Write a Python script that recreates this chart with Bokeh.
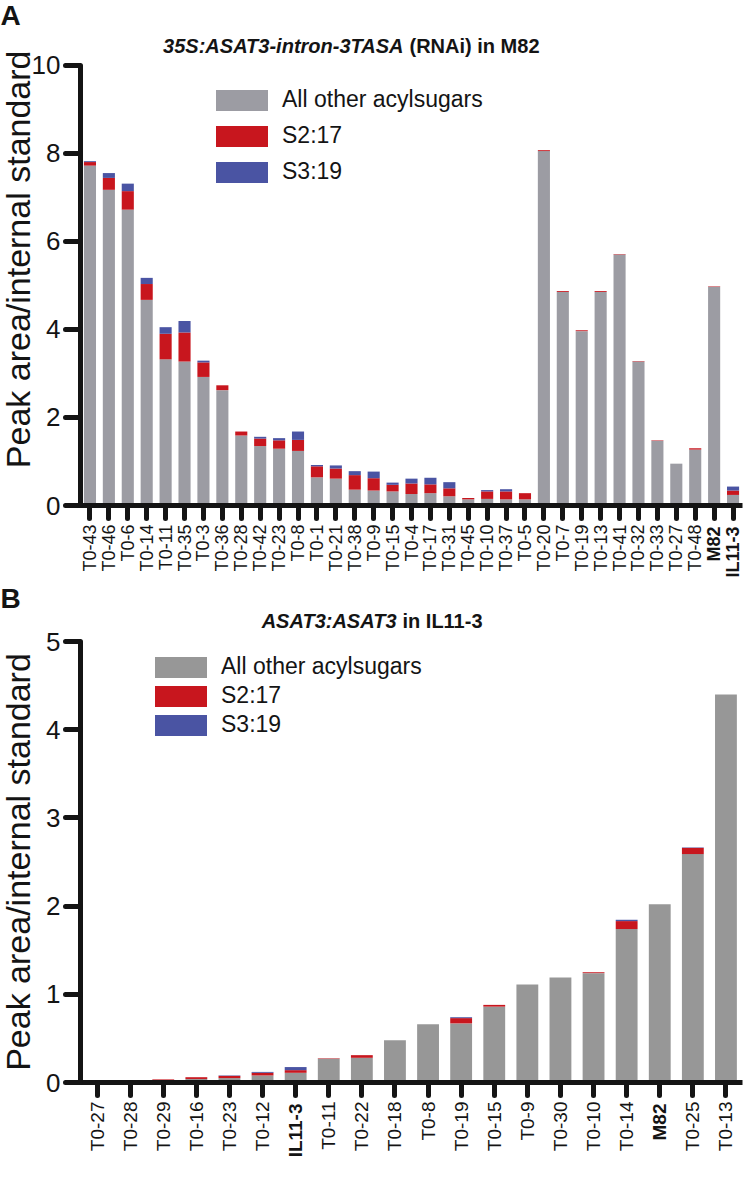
import math
from bokeh.plotting import figure
from bokeh.layouts import column
from bokeh.models import (Range1d, Label, Legend, LegendItem, ColumnDataSource, FixedTicker)
from bokeh.core.properties import value
from bokeh.embed import file_html
from bokeh.resources import INLINE

# ---------------- data ----------------
a_cats = ["T0-43", "T0-46", "T0-6", "T0-14", "T0-11", "T0-35", "T0-3", "T0-36", "T0-28",
          "T0-42", "T0-23", "T0-8", "T0-1", "T0-21", "T0-38", "T0-9", "T0-15", "T0-4",
          "T0-17", "T0-31", "T0-45", "T0-10", "T0-37", "T0-5", "T0-20", "T0-7", "T0-19",
          "T0-13", "T0-41", "T0-32", "T0-33", "T0-27", "T0-48", "M82", "IL11-3"]
a_other = [7.72, 7.17, 6.72, 4.67, 3.32, 3.27, 2.92, 2.62, 1.59, 1.35, 1.29, 1.24, 0.64, 0.61,
           0.36, 0.34, 0.32, 0.26, 0.28, 0.21, 0.14, 0.15, 0.14, 0.14, 8.05, 4.85, 3.96, 4.85,
           5.70, 3.27, 1.47, 0.95, 1.27, 4.97, 0.24]
a_s217 = [0.08, 0.27, 0.42, 0.36, 0.58, 0.66, 0.33, 0.11, 0.09, 0.17, 0.19, 0.25, 0.25, 0.23,
          0.33, 0.28, 0.15, 0.24, 0.20, 0.18, 0.03, 0.17, 0.18, 0.14, 0.02, 0.02, 0.02, 0.02,
          0.01, 0.01, 0.01, 0.0, 0.03, 0.01, 0.10]
a_s319 = [0.02, 0.11, 0.17, 0.14, 0.15, 0.26, 0.04, 0.0, 0.0, 0.04, 0.05, 0.19, 0.03, 0.07,
          0.09, 0.15, 0.05, 0.11, 0.15, 0.14, 0.0, 0.03, 0.05, 0.0, 0.0, 0.0, 0.0, 0.0,
          0.0, 0.0, 0.0, 0.0, 0.0, 0.0, 0.09]
a_yticks = [0, 2, 4, 6, 8, 10]

b_cats = ["T0-27", "T0-28", "T0-29", "T0-16", "T0-23", "T0-12", "IL11-3", "T0-11", "T0-22",
          "T0-18", "T0-8", "T0-19", "T0-15", "T0-9", "T0-30", "T0-10", "T0-14", "M82",
          "T0-25", "T0-13"]
b_other = [0.0, 0.01, 0.02, 0.04, 0.05, 0.08, 0.11, 0.27, 0.28, 0.48, 0.66, 0.67, 0.86, 1.11,
           1.19, 1.24, 1.74, 2.02, 2.59, 4.40]
b_s217 = [0.0, 0.015, 0.015, 0.02, 0.025, 0.03, 0.03, 0.005, 0.03, 0.0, 0.0, 0.06, 0.02, 0.0,
          0.0, 0.01, 0.09, 0.0, 0.07, 0.0]
b_s319 = [0.0, 0.0, 0.0, 0.0, 0.005, 0.01, 0.035, 0.0, 0.0, 0.0, 0.0, 0.01, 0.0, 0.0,
          0.0, 0.0, 0.015, 0.0, 0.005, 0.0]
b_yticks = [0, 1, 2, 3, 4, 5]

bold_cats = ["M82", "IL11-3"]
series_names = ["All other acylsugars", "S2:17", "S3:19"]
y_label = "Peak area/internal standard"

FONT = "Liberation Sans"
RED = "#c8161e"
BLUE = "#4a54a3"
INK = "#141414"

PAGE_X0 = 4          # page x of the canvas left edge (layout pulled 4px over the body margin)
PAGE_Y0 = 4
CANVAS_W = 748
AXIS_X = 88          # page x of the y axis / first slot edge
AXIS_R = 750         # page x of the right end of the x axis


def make_panel(cats, other, s2, s3, yticks, gray, bar_w, top, bottom, y0_px, ytop_px,
               letter, letter_y, title_it, title_rest, split_x, title_y,
               leg_x, leg_bottom, leg_gh, leg_spacing, leg_font, tick_font, ylab_font,
               ylab_x, ylab_dy):
    n = len(cats)
    ymax = yticks[-1]
    H = bottom - top
    ppu = (y0_px - ytop_px) / ymax
    slot = (AXIS_R - AXIS_X) / n
    x_start = -0.5 - (AXIS_X - PAGE_X0) / slot
    x_end = n - 0.5 + (PAGE_X0 + CANVAS_W - AXIS_R) / slot
    y_start = -(bottom - y0_px) / ppu
    y_end = ymax + (ytop_px - top) / ppu

    idx = list(range(n))
    src = ColumnDataSource(dict(x=idx, other=other, s217=s2, s319=s3))
    p = figure(x_range=Range1d(x_start, x_end), y_range=Range1d(y_start, y_end),
               width=CANVAS_W, height=H, output_backend="svg", toolbar_location=None,
               min_border=0)
    rs = p.vbar_stack(["other", "s217", "s319"], x="x", width=bar_w, source=src,
                      color=[gray, RED, BLUE], line_color=None)
    p.grid.visible = False
    p.outline_line_color = None

    for ax in (p.xaxis[0], p.yaxis[0]):
        ax.axis_line_width = 5
        ax.axis_line_color = INK
        ax.major_tick_line_width = 5
        ax.major_tick_line_color = INK
        ax.major_tick_line_cap = "round"
        ax.major_tick_in = 0
        ax.minor_tick_line_color = None
        ax.major_label_text_font = FONT
        ax.major_label_text_color = INK

    ya = p.yaxis[0]
    ya.fixed_location = -0.5
    ya.bounds = (0, ymax)
    ya.ticker = FixedTicker(ticks=yticks)
    ya.major_tick_out = 15
    ya.major_label_text_font_size = "26px"
    ya.major_label_standoff = 5

    xa = p.xaxis[0]
    xa.fixed_location = 0
    xa.bounds = (-0.5, n - 0.5)
    xa.ticker = FixedTicker(ticks=idx)
    xa.major_tick_out = 13
    xa.major_label_orientation = math.pi / 2
    xa.major_label_text_font_size = tick_font
    xa.major_label_standoff = 6
    xa.major_label_overrides = {i: ("" if c in bold_cats else c) for i, c in enumerate(cats)}

    bsrc = ColumnDataSource(dict(x=[i for i, c in enumerate(cats) if c in bold_cats],
                                 y=[0] * sum(c in bold_cats for c in cats),
                                 t=[c for c in cats if c in bold_cats]))
    p.text(x="x", y="y", text="t", source=bsrc, y_offset=21, angle=math.pi / 2,
           text_align="right", text_baseline="middle", text_font=value(FONT),
           text_font_style="bold", text_font_size=tick_font, text_color=INK)

    legend = Legend(items=[LegendItem(label=nm, renderers=[r]) for nm, r in zip(series_names, rs)],
                    location=(leg_x - PAGE_X0, bottom - leg_bottom), orientation="vertical")
    legend.glyph_width = 65
    legend.glyph_height = leg_gh
    legend.label_height = 10
    legend.label_text_font = FONT
    legend.label_text_font_size = leg_font
    legend.label_text_color = INK
    legend.label_text_baseline = "middle"
    legend.label_standoff = 8
    legend.spacing = leg_spacing
    legend.padding = 0
    legend.margin = 0
    legend.border_line_alpha = 0
    legend.background_fill_alpha = 0
    p.add_layout(legend, "center")

    def lab(text, px, py, size, style, align, angle=0.0):
        p.add_layout(Label(x=px - PAGE_X0, y=bottom - py, x_units="screen", y_units="screen",
                           text=text, text_align=align, text_baseline="middle", angle=angle,
                           text_font=FONT, text_font_style=style, text_font_size=size,
                           text_color=INK))

    lab(title_it, split_x, title_y, "20px", "bold italic", "right")
    lab(title_rest, split_x + 6, title_y, "20px", "bold", "left")
    lab(letter, 8, letter_y, "28px", "bold", "left")
    lab(y_label, ylab_x, (y0_px + ytop_px) / 2 + ylab_dy, ylab_font, "normal", "center",
        math.pi / 2)
    return p


pa = make_panel(a_cats, a_other, a_s217, a_s319, a_yticks, "#9c9ca3", 0.64,
                PAGE_Y0, 590, 513, 72.7, "A", 23, "35S:ASAT3-intron-3TASA", "(RNAi) in M82",
                411, 53, 217, 193, 26, 9, "23px", "18px", "34px", 25, -26)
pb = make_panel(b_cats, b_other, b_s217, b_s319, b_yticks, "#979797", 0.66,
                590, 1170, 1090, 649, "B", 606, "ASAT3:ASAT3", "in IL11-3",
                404, 628, 156, 746, 26, 2, "23px", "19px", "34px", 25, 0)

layout = column(pa, pb, spacing=0, margin=(-4, 0, 0, -4))
open("out.html", "w").write(file_html(layout, INLINE))
